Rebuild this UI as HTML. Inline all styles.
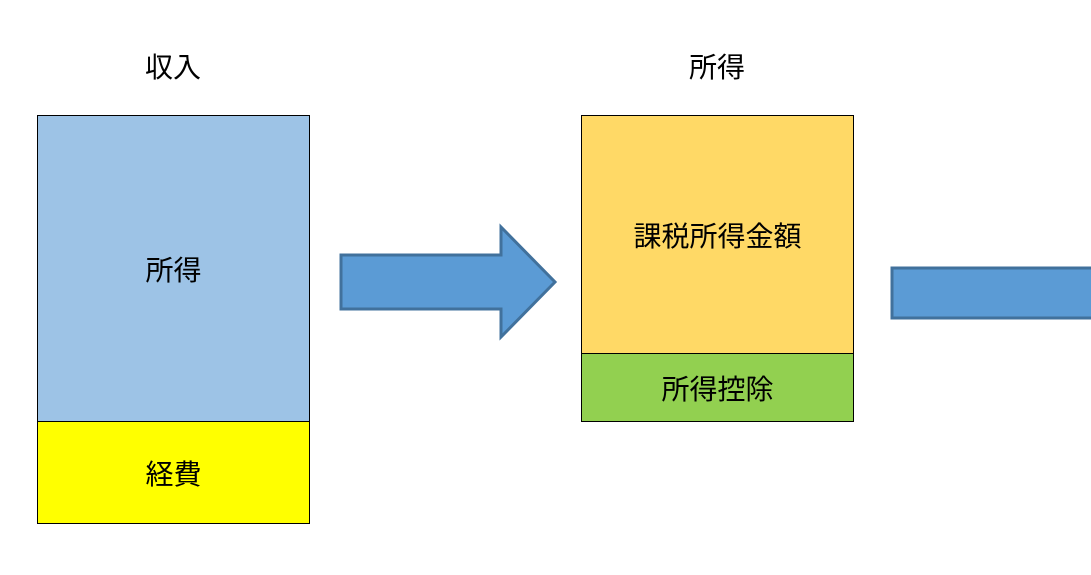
<!DOCTYPE html>
<html><head><meta charset="utf-8"><style>
body{margin:0;width:1091px;height:575px;background:#fff;overflow:hidden;position:relative;font-family:"Liberation Sans","Noto Sans CJK JP",sans-serif;}
.b{position:absolute;box-sizing:border-box;border:1px solid #000;display:flex;align-items:center;justify-content:center;font-size:28px;color:#000;}
.t{position:absolute;font-size:28px;text-align:center;width:200px;}
</style></head><body>
<div class="t" style="left:73px;top:46px">収入</div>
<div class="t" style="left:617px;top:46px">所得</div>
<div class="b" style="left:37px;top:115px;width:273px;height:307px;background:#9dc3e6">所得</div>
<div class="b" style="left:37px;top:421px;width:273px;height:103px;background:#ffff00">経費</div>
<div class="b" style="left:581px;top:115px;width:273px;height:239px;background:#ffd966">課税所得金額</div>
<div class="b" style="left:581px;top:353px;width:273px;height:69px;background:#92d050">所得控除</div>
<svg width="1091" height="575" style="position:absolute;left:0;top:0">
<polygon points="341,255 501,255 501,227 555,282 501,337 501,309 341,309" fill="#5b9bd5" stroke="#41719c" stroke-width="3"/>
<rect x="892" y="268" width="210" height="50" fill="#5b9bd5" stroke="#41719c" stroke-width="3"/>
</svg>
</body></html>
